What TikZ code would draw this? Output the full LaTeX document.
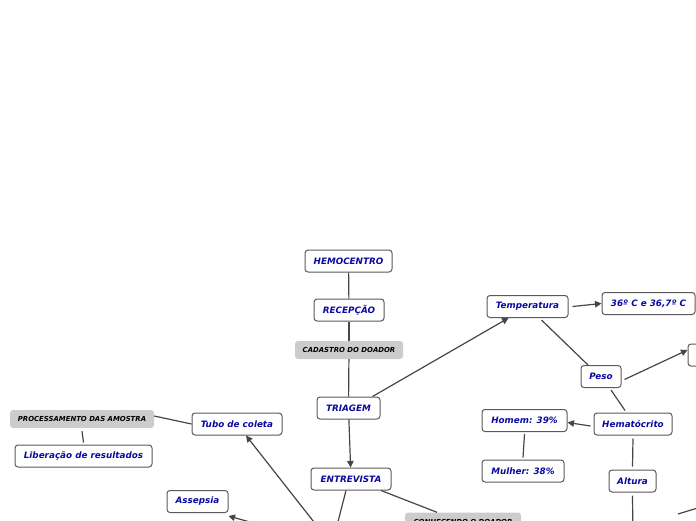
\documentclass[tikz,border=0pt]{standalone}
\usepackage{fontspec}
\newfontfamily\vfont{DejaVu Sans}
\usetikzlibrary{arrows.meta}
\definecolor{txtblue}{RGB}{10,10,160}
\definecolor{bordergray}{RGB}{90,90,90}
\definecolor{linegray}{RGB}{70,70,70}
\definecolor{labelgray}{RGB}{204,204,204}
\tikzset{
  mbox/.style={draw=bordergray, line width=1pt, fill=white, rounded corners=3pt,
    minimum height=22pt, inner sep=0pt, text=txtblue,
    font=\vfont\bfseries\itshape\fontsize{8.8}{10}\selectfont},
  glabel/.style={fill=labelgray, rounded corners=3pt, minimum height=18pt, inner sep=0pt,
    text=black, font=\vfont\bfseries\itshape\fontsize{6.9}{8}\selectfont},
  conn/.style={draw=linegray, line width=1.2pt},
  arr/.style={conn, -{Triangle[length=6.5pt,width=6.5pt]}}
}
\begin{document}
\begin{tikzpicture}[x=1pt,y=-1pt]
\useasboundingbox (0,0) rectangle (696,520);
\clip (0,0) rectangle (696,520);
% nodes
\node[mbox, minimum width=87pt] (hemo) at (348.5,261) {HEMOCENTRO};
\node[mbox, minimum width=70pt] (recep) at (349,310) {RECEPÇÃO};
\node[glabel, minimum width=108pt] (cad) at (349,350) {CADASTRO DO DOADOR};
\node[mbox, minimum width=63pt] (triag) at (348.5,408) {TRIAGEM};
\node[mbox, minimum width=80pt] (entrev) at (351,479) {ENTREVISTA};
\node[mbox, minimum width=81pt] (temp) at (527.5,306.5) {Temperatura};
\node[mbox, minimum width=93pt] (tval) at (648.5,303.5) {36º C e 36,7º C};
\node[mbox, minimum width=60pt] (pval) at (718,355) {};
\node[mbox, minimum width=40pt] (peso) at (601,376.5) {Peso};
\node[mbox, minimum width=78pt] (hema) at (633,424) {Hematócrito};
\node[mbox, minimum width=85pt] (homem) at (524.5,420.5) {Homem: 39\%};
\node[mbox, minimum width=82pt] (mulher) at (523,471) {Mulher: 38\%};
\node[mbox, minimum width=47pt] (altura) at (632.5,481) {Altura};
\node[mbox, minimum width=90pt] (tubo) at (237,424) {Tubo de coleta};
\node[glabel, minimum width=144pt] (proc) at (82,419) {PROCESSAMENTO DAS AMOSTRA};
\node[mbox, minimum width=137pt] (lib) at (83.5,456) {Liberação de resultados};
\node[mbox, minimum width=61pt] (asep) at (197.5,501.5) {Assepsia};
\node[glabel, minimum width=116pt] (conh) at (463,521.5) {CONHECENDO O DOADOR};
% off-canvas ends
\coordinate (coleta) at (332,545);
\coordinate (altdown) at (633,545);
\coordinate (rightoff) at (740,495);
\coordinate (rightstart) at (678,514);
% connectors
\draw[conn] (hemo) -- (recep);
\draw[conn] (recep) -- (cad);
\draw[conn] (cad) -- (triag);
\draw[arr] (triag.north east) ++(-8,0) -- ([xshift=-19pt]temp.south);
\draw[arr] (triag) -- (entrev);
\draw[arr] ([xshift=4pt]temp.east) -- (tval.west);
\draw[conn] ([xshift=14pt,yshift=-2pt]temp.south) -- ([xshift=-13pt]peso.north);
\draw[arr] ([xshift=3pt,yshift=-3pt]peso.east) -- ([yshift=5pt]pval.west);
\draw[conn] ([xshift=10pt,yshift=-2pt]peso.south) -- ([xshift=-8pt,yshift=2pt]hema.north);
\draw[arr] ([xshift=-3pt,yshift=-2pt]hema.west) -- ([yshift=-2pt]homem.east);
\draw[conn] ([yshift=-2pt]homem.south) -- ([yshift=2pt]mulher.north);
\draw[conn] ([yshift=-3pt]hema.south) -- ([yshift=3pt]altura.north);
\draw[conn] ([yshift=-3pt]altura.south) -- (altdown);
\draw[conn] (rightstart) -- (rightoff);
\draw[conn] ([xshift=30pt]entrev.south) -- ([xshift=-26pt]conh.north);
\draw[conn] ([xshift=-5pt]entrev.south) -- (coleta);
\draw[arr] (coleta) -- ([xshift=9pt]tubo.south);
\draw[arr] (coleta) -- ([yshift=-3pt]asep.south east);
\draw[conn] (tubo.west) -- ([yshift=3pt]proc.east);
\draw[conn] ([yshift=-3pt]proc.south) -- ([yshift=2pt]lib.north);
\end{tikzpicture}
\end{document}
